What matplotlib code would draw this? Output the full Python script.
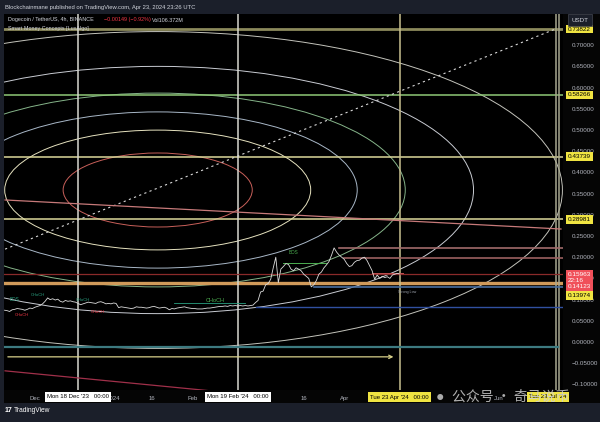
import matplotlib
matplotlib.use('Agg')
import matplotlib.pyplot as plt
import matplotlib.dates as mdates
from matplotlib.patches import Ellipse, Rectangle
import numpy as np
import pandas as pd

plt.rcParams['font.family'] = ['Liberation Sans', 'DejaVu Sans', 'Noto Sans CJK SC']

# ---------------- data ----------------
start_date = '2023-11-19'
close_prices = [
    # Nov 19 - Nov 30
    0.075, 0.074, 0.072, 0.076, 0.077, 0.079, 0.078, 0.077, 0.075, 0.077, 0.080, 0.079,
    # Dec 1 - Dec 17
    0.082, 0.084, 0.086, 0.090, 0.096, 0.104, 0.100, 0.102, 0.099, 0.101, 0.096, 0.094,
    0.098, 0.096, 0.097, 0.095, 0.094,
    # Dec 18 - Dec 31
    0.091, 0.088, 0.090, 0.092, 0.094, 0.093, 0.092, 0.091, 0.094, 0.095, 0.093, 0.090,
    0.091, 0.090,
    # Jan
    0.092, 0.091, 0.081, 0.083, 0.082, 0.081, 0.080, 0.079, 0.080, 0.083, 0.082, 0.082,
    0.081, 0.080, 0.081, 0.083, 0.084, 0.082, 0.080, 0.081, 0.082, 0.080, 0.076, 0.079,
    0.078, 0.080, 0.081, 0.082, 0.083, 0.081, 0.080,
    # Feb
    0.079, 0.079, 0.078, 0.078, 0.078, 0.079, 0.080, 0.080, 0.081, 0.082, 0.083, 0.084,
    0.084, 0.085, 0.084, 0.086, 0.085, 0.086, 0.085, 0.086, 0.085, 0.086, 0.085, 0.086,
    0.087, 0.093, 0.098, 0.118, 0.120,
    # Mar
    0.135, 0.138, 0.148, 0.175, 0.200, 0.140, 0.172, 0.178, 0.185, 0.183, 0.172, 0.168,
    0.175, 0.172, 0.168, 0.160, 0.155, 0.150, 0.130, 0.135, 0.145, 0.160, 0.165, 0.175,
    0.182, 0.190, 0.205, 0.222, 0.212, 0.205, 0.200,
    # Apr 1 - Apr 23
    0.195, 0.185, 0.178, 0.180, 0.188, 0.192, 0.193, 0.198, 0.200, 0.192, 0.180, 0.168,
    0.148, 0.158, 0.150, 0.155, 0.152, 0.154, 0.150, 0.158, 0.160, 0.162, 0.160,
]

price_ticks = [-0.10, -0.05, 0.0, 0.05, 0.10, 0.15, 0.20, 0.25, 0.30, 0.35, 0.40,
               0.45, 0.50, 0.55, 0.60, 0.65, 0.70]
time_ticks = ['2023-12-01', '2024-01-01', '2024-01-16', '2024-02-01', '2024-03-01',
              '2024-03-16', '2024-04-01', '2024-06-01']
time_tick_labels = ['Dec', '2024', '16', 'Feb', 'Mar', '16', 'Apr', 'Jun']

level_prices = [0.73822, 0.58266, 0.43739, 0.28981, 0.13974]
level_labels = ['0.73822', '0.58266', '0.43739', '0.28981', '0.13974']

vline_dates = ['2023-12-18', '2024-02-19', '2024-04-23', '2024-06-23 12:00', '2024-06-24 18:00']

fib_levels = [1.0, 1.618, 2.11, 2.618, 3.34, 4.28]
fib_center_date = '2024-01-18 10:00'
fib_center_price = 0.3585
fib_unit_days = 37.3
fib_unit_price = 0.0873

last_price = 0.15963
smc_low = 0.14123

# ---------------- figure ----------------
W, H = 600, 422
fig = plt.figure(figsize=(6.0, 4.22), dpi=100)
fig.patch.set_facecolor('#1b1f2a')

def fx(px):
    return px / W

def fy(py):
    return 1 - py / H

# backgrounds (drawn beneath the axes)
fig.patches.append(Rectangle((fx(563), fy(403)), fx(37), (403 - 14) / H,
                             transform=fig.transFigure, fc='#050505', ec='none', zorder=-5))
fig.patches.append(Rectangle((fx(4), fy(403)), fx(559), 13 / H,
                             transform=fig.transFigure, fc='#050505', ec='none', zorder=-5))
fig.patches.append(Rectangle((0, 0), 1, 19 / H, transform=fig.transFigure, fc='#1b1f2a',
                             ec='none', zorder=-5))

# pane
pane_l, pane_r, pane_t, pane_b = 4, 563, 14, 390
ax = fig.add_axes([fx(pane_l), fy(pane_b), fx(pane_r - pane_l), (pane_b - pane_t) / H])
ax.set_facecolor('#000000')

d0 = mdates.date2num(pd.Timestamp('2023-11-18 19:00'))
d1 = mdates.date2num(pd.Timestamp('2024-06-26 07:00'))
ax.set_xlim(d0, d1)
ax.set_ylim(-0.1132, 0.7736)

for s in ax.spines.values():
    s.set_visible(False)

# ticks
ax.yaxis.tick_right()
ax.set_yticks(price_ticks)
ax.set_yticklabels([(f"{v:.5f}" if v >= 0 else "\u2212" + f"{abs(v):.5f}") for v in price_ticks])
ax.tick_params(axis='y', length=0, pad=6, labelsize=4.5, labelcolor='#b2b5be')
tt = [mdates.date2num(pd.Timestamp(t)) for t in time_ticks]
ax.set_xticks(tt)
ax.set_xticklabels(time_tick_labels)
ax.tick_params(axis='x', length=0, pad=4, labelsize=4.3, labelcolor='#b2b5be')

def dn(s):
    return mdates.date2num(pd.Timestamp(s))

# ---------------- Fib ellipses ----------------
fib_colors = ['#c9605a', '#e6e2bf', '#a9b8c8', '#86b58a', '#c9ccd3', '#c4c4bc']
cx = dn(fib_center_date)
for lv, c in zip(fib_levels, fib_colors):
    e = Ellipse((cx, fib_center_price), width=2 * fib_unit_days * lv,
                height=2 * fib_unit_price * lv, fill=False, ec=c, lw=0.7, zorder=2)
    ax.add_patch(e)

# ---------------- horizontal levels ----------------
lvl_colors = ['#8c8a5c', '#8fc878', '#dcd89a', '#dcd89a', '#d09a5a']
lvl_lw = [2.0, 1.1, 1.1, 1.1, 2.4]
for p, c, lw in zip(level_prices, lvl_colors, lvl_lw):
    ax.axhline(p, color=c, lw=lw, zorder=3)

# vertical lines
vcols = ['#d8d8d0', '#d8d8d0', '#c8c090', '#a8a890', '#a8a890']
for d, c in zip(vline_dates, vcols):
    ax.axvline(dn(d), color=c, lw=1.1, zorder=3)

# diagonal dotted line
ax.plot([dn('2023-11-19 05:00'), dn('2024-06-23 05:00')], [0.219, 0.738],
        color='#d8d8d8', lw=0.8, ls=(0, (2, 3)), zorder=3)
# pink diagonal
ax.plot([dn('2023-11-19 05:00'), dn('2024-06-25 12:00')], [0.335, 0.2665],
        color='#c87a7a', lw=0.9, zorder=3)
# red lower diagonal
ax.plot([dn('2023-11-19 05:00'), dn('2024-02-08')], [-0.068, -0.115],
        color='#a0304a', lw=0.9, zorder=3)
# teal bottom line
ax.plot([dn('2023-11-19 05:00'), dn('2024-06-24 12:00')], [-0.012, -0.012],
        color='#3d7a80', lw=1.6, zorder=3)
# yellow arrow
ax.annotate('', xy=(dn('2024-04-21 12:00'), -0.035), xytext=(dn('2023-11-19 05:00'), -0.035),
            arrowprops=dict(arrowstyle='->', color='#d8d08a', lw=0.9,
                            mutation_scale=6), zorder=3)

# SMC zones / lines
ax.plot([dn('2024-03-30'), d1], [0.222, 0.222], color='#a06a6a', lw=1.2, zorder=3)
ax.plot([dn('2024-04-01'), d1], [0.199, 0.199], color='#9a6060', lw=1.2, zorder=3)
ax.axhline(last_price, color='#8a2a2a', lw=0.9, zorder=3)
ax.plot([dn('2024-03-20'), d1], [0.130, 0.130], color='#4a6fa0', lw=1.2, zorder=3)
ax.plot([dn('2024-02-26'), d1], [0.0825, 0.0825], color='#3050a0', lw=1.0, zorder=3)
ax.plot([dn('2024-04-12'), dn('2024-04-24')], [0.163, 0.163], color='#c05050', lw=0.7, zorder=3)
ax.plot([dn('2024-03-08'), dn('2024-03-25')], [0.186, 0.186], color='#4caf50', lw=0.7, zorder=3)
ax.plot([dn('2024-01-25'), dn('2024-02-22')], [0.092, 0.092], color='#2aa080', lw=0.6, zorder=3)

# price series
dates = pd.date_range(start_date, periods=len(close_prices), freq='D')
ax.plot(mdates.date2num(dates), close_prices, color='#dcdcdc', lw=0.6, zorder=4)

# SMC labels
smc = [('BOS', '2023-11-23', 0.100, '#2aa080', 3.3),
       ('CHoCH', '2023-11-26', 0.064, '#f23645', 3.0),
       ('CHoCH', '2023-12-02', 0.110, '#2aa080', 3.0),
       ('CHoCH', '2023-12-26', 0.071, '#f23645', 3.0),
       ('CHoCH', '2023-12-20', 0.098, '#2aa080', 3.0),
       ('CHoCH', '2024-02-10', 0.099, '#4caf50', 4.0),
       ('BOS', '2024-03-12', 0.212, '#4caf50', 3.3),
       ('Strong Low', '2024-04-26', 0.118, '#9aa0aa', 2.6)]
for t, d, p, c, fs in smc:
    ax.text(dn(d), p, t, color=c, fontsize=fs, ha='center', va='center', zorder=5)

# ---------------- price-axis labels ----------------
def price_label(text, p, fc, tc, dy=0):
    ax.annotate(text, xy=(1.0, p), xycoords=('axes fraction', 'data'),
                xytext=(5, dy), textcoords='offset pixels', ha='left', va='center',
                fontsize=4.6, color=tc, annotation_clip=False, zorder=10,
                bbox=dict(boxstyle='square,pad=0.3', fc=fc, ec='none'))

for i, (p, t) in enumerate(zip(level_prices, level_labels)):
    dy = -13 if i == len(level_prices) - 1 else 0
    price_label(t, p, '#f0e442', '#000000', dy=dy)

ax.annotate(f"{last_price:.5f}\n22:16\n{smc_low:.5f}", xy=(1.0, 0.1445),
            xycoords=('axes fraction', 'data'), xytext=(5, 0), textcoords='offset pixels',
            ha='left', va='center', fontsize=4.6, color='white', linespacing=1.3,
            annotation_clip=False, zorder=11,
            bbox=dict(boxstyle='square,pad=0.3', fc='#f0505a', ec='none'))

fig.text(fx(580), fy(20), 'USDT', fontsize=4.5, color='#d1d4dc', ha='center', va='center',
         bbox=dict(boxstyle='square,pad=0.55', fc='#1b1f2a', ec='#434651', lw=0.5), zorder=12)

# ---------------- time-axis labels ----------------
def time_label(text, d, fc, tc, dx=0):
    ax.annotate(text, xy=(dn(d), 0), xycoords=('data', 'axes fraction'),
                xytext=(dx, -7), textcoords='offset pixels', ha='center', va='center',
                fontsize=4.3, color=tc, annotation_clip=False, zorder=10,
                bbox=dict(boxstyle='square,pad=0.35', fc=fc, ec='none'))

time_label("Mon 18 Dec '23   00:00", '2023-12-18', '#ffffff', '#000000')
time_label("Mon 19 Feb '24   00:00", '2024-02-19', '#ffffff', '#000000')

# watermark
fig.text(fx(440), fy(397), '\u25cf', fontsize=10, color='#bfbfbf', ha='center', va='center', alpha=0.9)
fig.text(fx(452), fy(397), '公众号 · 奇马说币', fontsize=10, color='#cfcfcf', ha='left',
         va='center', alpha=0.85, family=['Noto Sans CJK SC', 'DejaVu Sans'], zorder=3)

time_label("Tue 23 Apr '24   00:00", '2024-04-22 18:00', '#f0e442', '#000000')
time_label("Tue 23 Jul '24", '2024-06-24', '#f0e442', '#000000', dx=-9)

# ---------------- header / footer ----------------
fig.text(fx(5), fy(7), 'Blockchainmane published on TradingView.com, Apr 23, 2024 23:26 UTC',
         fontsize=4.2, color='#d1d4dc', ha='left', va='center')
fig.text(fx(8), fy(20), 'Dogecoin / TetherUS, 4h, BINANCE', fontsize=3.9, color='#d1d4dc',
         ha='left', va='center', zorder=12)
fig.text(fx(104), fy(20), '\u22120.00149 (\u22120.92%)', fontsize=3.9, color='#f23645',
         ha='left', va='center', zorder=12)
fig.text(fx(152), fy(20), 'Vol106.372M', fontsize=3.9, color='#d1d4dc', ha='left', va='center',
         zorder=12)
fig.text(fx(8), fy(28.5), 'Smart Money Concepts [LuxAlgo]', fontsize=3.9, color='#d1d4dc',
         ha='left', va='center', zorder=12)

fig.text(fx(5), fy(411), '17', fontsize=5, fontweight='bold', color='#ffffff', ha='left', va='center')
fig.text(fx(14), fy(411), 'TradingView', fontsize=4.8, color='#ffffff', ha='left', va='center')

fig.savefig('out.png', dpi=100, facecolor=fig.get_facecolor())
